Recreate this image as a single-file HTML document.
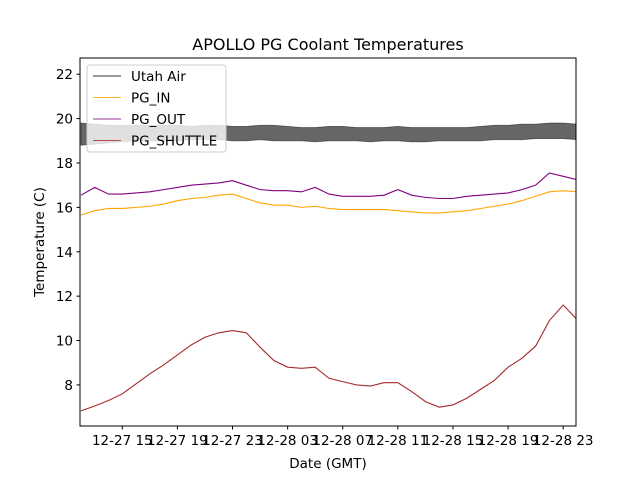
<!DOCTYPE html>
<html><head><meta charset="utf-8"><style>
body{margin:0;background:#fff}
svg text{font-family:"DejaVu Sans","Liberation Sans",sans-serif;fill:#000}
</style></head><body>
<svg id="chart" width="640" height="480" xmlns="http://www.w3.org/2000/svg">
<rect width="640" height="480" fill="#fff"/>
<text x="328" y="50" font-size="16" text-anchor="middle">APOLLO PG Coolant Temperatures</text>
<g id="plot"></g>
<g id="axes"></g>
<text x="328" y="468" font-size="13.5" text-anchor="middle">Date (GMT)</text>
<text transform="translate(44,242) rotate(-90)" font-size="13.5" text-anchor="middle">Temperature (C)</text>
<g id="legend"></g>
</svg>
<script>
const hours=[12,13,14,15,16,17,18,19,20,21,22,23,24,25,26,27,28,29,30,31,32,33,34,35,36,37,38,39,40,41,42,43,44,45,46,47,48];
const pgShuttle=[6.83,7.05,7.3,7.6,8.05,8.5,8.9,9.35,9.8,10.15,10.35,10.45,10.35,9.7,9.1,8.8,8.75,8.8,8.3,8.15,8.0,7.95,8.1,8.1,7.7,7.25,7.0,7.1,7.4,7.8,8.2,8.8,9.2,9.75,10.9,11.6,10.95];
const pgIn=[15.65,15.85,15.95,15.95,16.0,16.05,16.15,16.3,16.4,16.45,16.55,16.6,16.4,16.2,16.1,16.1,16.0,16.05,15.95,15.9,15.9,15.9,15.9,15.85,15.8,15.75,15.75,15.8,15.85,15.95,16.05,16.15,16.3,16.5,16.7,16.75,16.7];
const pgOut=[16.55,16.9,16.6,16.6,16.65,16.7,16.8,16.9,17.0,17.05,17.1,17.2,17.0,16.8,16.75,16.75,16.7,16.9,16.6,16.5,16.5,16.5,16.55,16.8,16.55,16.45,16.4,16.4,16.5,16.55,16.6,16.65,16.8,17.0,17.55,17.4,17.25];
const airHi=[19.8,19.75,19.7,19.7,19.7,19.7,19.7,19.7,19.65,19.7,19.7,19.65,19.65,19.7,19.7,19.65,19.6,19.6,19.65,19.65,19.6,19.6,19.6,19.65,19.6,19.6,19.6,19.6,19.6,19.65,19.7,19.7,19.75,19.75,19.8,19.8,19.75];
const airLo=[18.8,18.85,18.9,18.95,19.0,19.0,19.0,19.0,19.05,19.05,19.05,19.0,19.0,19.05,19.0,19.0,19.0,18.95,19.0,19.0,19.0,18.95,19.0,19.0,18.95,18.95,19.0,19.0,19.0,19.0,19.05,19.05,19.05,19.1,19.1,19.1,19.05];
const yTicks=[8,10,12,14,16,18,20,22];
const xTickHours=[15,19,23,27,31,35,39,43,47];
const xTickLabels=["12-27 15","12-27 19","12-27 23","12-28 03","12-28 07","12-28 11","12-28 15","12-28 19","12-28 23"];
const L=80,R=576,T=58,B=426,hMin=11.93,hMax=47.93,vMin=6.15,vMax=22.73;
const NS="http://www.w3.org/2000/svg";
const X=h=>L+(h-hMin)/(hMax-hMin)*(R-L);
const Y=v=>B-(v-vMin)/(vMax-vMin)*(B-T);
function mk(tag,attrs,parent){const e=document.createElementNS(NS,tag);for(const k in attrs)e.setAttribute(k,attrs[k]);parent.appendChild(e);return e;}
const plot=document.getElementById('plot'),axes=document.getElementById('axes');
const cp=mk('clipPath',{id:'clip'},plot);
mk('rect',{x:L,y:T,width:R-L,height:B-T},cp);
const g=mk('g',{'clip-path':'url(#clip)'},plot);
let band=hours.map((h,i)=>X(h)+','+Y(airHi[i])).join(' ')+' '+hours.map((h,i)=>X(h)+','+Y(airLo[i])).reverse().join(' ');
const airEl=mk('polygon',{points:band,fill:'#000','fill-opacity':'0.6',stroke:'#000','stroke-opacity':'0.5','stroke-width':'0.8'},g);


function line(vals,color,name){const p=mk('polyline',{points:hours.map((h,i)=>X(h)+','+Y(vals[i])).join(' '),fill:'none',stroke:color,'stroke-width':'1.1'},g);

}
line(pgIn,'#ffa500','pg-in-series');
line(pgOut,'#800080','pg-out-series');
line(pgShuttle,'#a52a2a','pg-shuttle-series');
const fr=mk('rect',{x:L,y:T,width:R-L,height:B-T,fill:'none',stroke:'#000','stroke-width':1},axes);


yTicks.forEach(v=>{mk('line',{x1:L-3.5,x2:L,y1:Y(v),y2:Y(v),stroke:'#000'},axes);
const t=mk('text',{x:L-7,y:Y(v)+5,'font-size':'13.5','text-anchor':'end'},axes);t.textContent=v;

});
xTickHours.forEach((h,i)=>{mk('line',{x1:X(h),x2:X(h),y1:B,y2:B+3.5,stroke:'#000'},axes);
const t=mk('text',{x:X(h),y:B+19,'font-size':'13.5','text-anchor':'middle'},axes);t.textContent=xTickLabels[i];

});
const lg=document.getElementById('legend');
mk('rect',{x:87,y:65,width:139,height:87,rx:3,fill:'#fff','fill-opacity':'0.8',stroke:'#ccc'},lg);
const names=["Utah Air","PG_IN","PG_OUT","PG_SHUTTLE"],cols=['#000','#ffa500','#800080','#a52a2a'];
names.forEach((n,i)=>{const y=76+i*21.5;
mk('line',{x1:93,x2:121,y1:y,y2:y,stroke:cols[i],'stroke-width':1,'stroke-opacity':0.8},lg);
const t=mk('text',{x:131,y:y+5,'font-size':'13.5'},lg);t.textContent=n;

});
</script>
</body></html>
